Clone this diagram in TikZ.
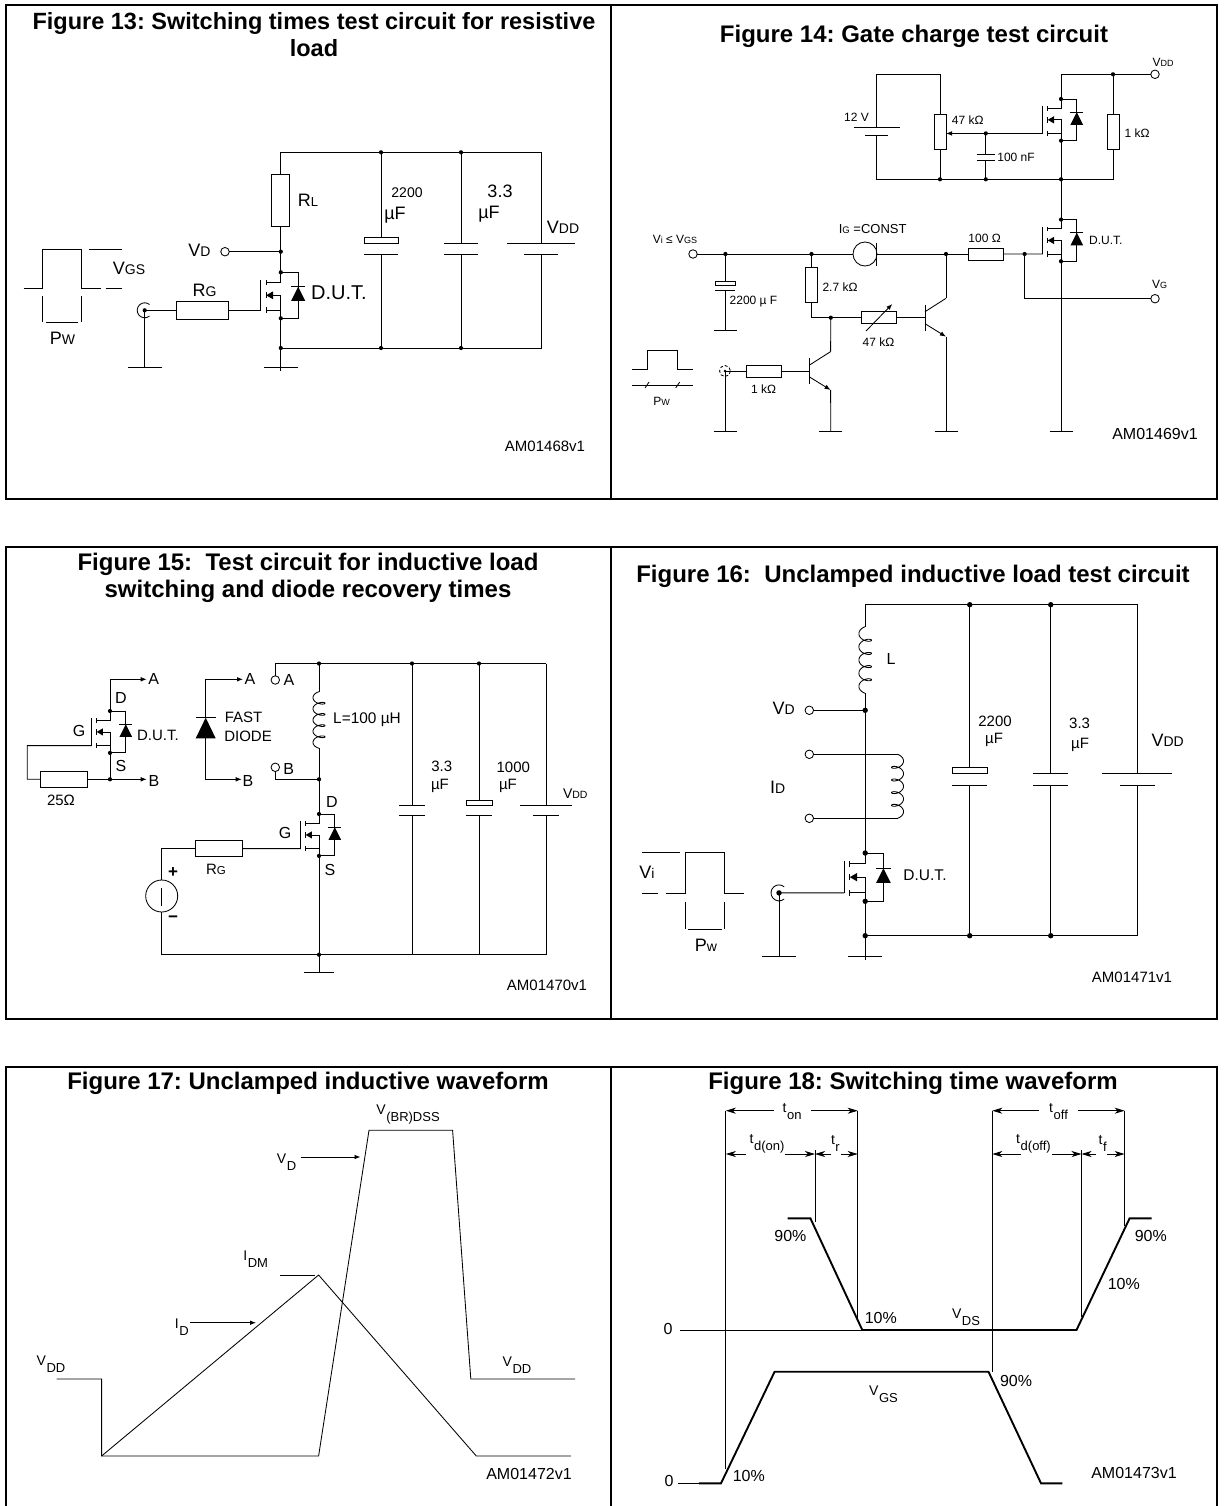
\documentclass[tikz,border=0pt]{standalone}
\usepackage{fontspec}
\setmainfont{Liberation Sans}
\usepackage{tikz}
\usetikzlibrary{arrows.meta}
\frenchspacing
\newcommand{\lowcap}[2]{{\fontsize{#1}{#1}\selectfont #2}}
\newcommand{\dropcap}[2]{\kern.6pt\raisebox{-7pt}{\fontsize{#1}{#1}\selectfont #2}}
\newcommand{\jradius}{2.1}
\newcommand{\jdot}[1]{\foreach \j in {#1}{\fill (\j) circle (\jradius);}}
\newcommand{\mosfet}[4]{
    \begin{scope}[shift={(#2,#3)},scale=#4]
    \coordinate (#1-d) at (0,0);
    \coordinate (#1-s) at (0,46);
    \coordinate (#1-g) at (-20,38);
    \draw (-20,8)--++(0,30);
    \draw (-14.7,8)--++(0,5);
    \draw (-14.7,20)--++(0,6);
    \draw (-14.7,35)--++(0,6);
    \draw (-14.7,10)--++(14.7,0)--++(0,-10)--++(17.4,0)--++(0,46)--++(-17.4,0)--++(0,-8)--++(-14.7,0);
    \draw (0,46)--++(0,-23)--++(-8,0);
    \fill (-14.7,23)--++(7,-4)--++(0,8)--cycle;
    \draw (10.4,14.5)--++(14,0);
    \fill (17.4,14.5)--++(7,14)--++(-14,0)--cycle;
    \end{scope}
    \jdot{#1-d,#1-s}
}
\newcommand{\npn}[3]{
    \begin{scope}[shift={(#2,#3)}]
    \coordinate (#1-b) at (0,0);
    \coordinate (#1-c) at (21,-19.4);
    \coordinate (#1-e) at (21,19);
    \draw (0,-13)--(0,13);
    \draw (0,-6)--(21,-19.4);
    \draw[tip] (0,6)--(21,19);
    \end{scope}
}
\newcommand{\platepair}[6]{
    \coordinate (#1-t) at (#2,#3);
    \coordinate (#1-b) at (#2,#4);
    \draw (#2-#5,#3)--(#2+#5,#3);
    \draw (#2-#6,#4)--(#2+#6,#4);
}
\newcommand{\gnd}[4]{
    \coordinate (#1) at (#2,#3);
    \draw (#2-#4,#3)--(#2+#4,#3);
}
\newcommand{\coax}[4]{
    \coordinate (#1) at (#2,#3);
    \draw ([shift={(50:#4)}]#1) arc (50:310:#4);
    \jdot{#1}
}
\newcommand{\coil}[4]{
    \begin{scope}
    \pgfmathsetmacro{\coilk}{(#3-#2)/1821.6}
    \pgfmathsetmacro{\coilm}{(#2+#3)/2}
    \draw plot[domain=90:1710,samples=170,variable=\t] ({#1+#4*cos(\t)},{\coilm+\coilk*(\t-900)-100.8*\coilk*sin(\t)});
    \end{scope}
}
\tikzset{
    txt/.style={inner sep=0pt,outer sep=0pt,font=\fontsize{#1}{#1}\selectfont},
    title/.style={inner sep=0pt,align=center,font=\fontsize{#1}{27}\selectfont\bfseries},
    title/.default=24,
    frame/.style={line width=2pt},
    res/.style={draw,fill=white,inner sep=0pt,outer sep=0pt},
    term/.style={draw,fill=white,circle,inner sep=0pt,outer sep=0pt,minimum size=8.5},
    tip/.style={-{Latex[length=6pt,width=4.6pt]}},
    dimtip/.style={-{Stealth[length=10pt,width=6pt,inset=3pt]}},
    trace/.style={line width=1.9pt}
}
\begin{document}
\begin{tikzpicture}[x=1pt,y=-1pt,line width=.85pt]
\useasboundingbox (0,0) rectangle (1223,1506);
\fill[white] (0,0) rectangle (1223,1506);
\draw[frame] (6,5) rectangle (1217,498.7);
\draw[frame] (611,5)--(611,498.7);
\draw[frame] (6,547) rectangle (1217,1019);
\draw[frame] (611,547)--(611,1019);
\draw[frame] (6,1506)--(6,1066.7)--(1217,1066.7)--(1217,1506);
\draw[frame] (611,1066.7)--(611,1506);
\node[title=23.5] (fig13) at (314,34.5) {Figure 13: Switching times test circuit for resistive\\load};
\node[title] (fig14) at (914,36) {Figure 14: Gate charge test circuit};
\node[title] (fig15) at (308,577.5) {Figure 15:\ \ Test circuit for inductive load\\switching and diode recovery times};
\node[title] (fig16) at (913,576) {Figure 16:\ \ Unclamped inductive load test circuit};
\node[title] (fig17) at (308,1083) {Figure 17: Unclamped inductive waveform};
\node[title] (fig18) at (913,1083) {Figure 18: Switching time waveform};

\coordinate (a-t0) at (280.8,152.3);
\coordinate (a-t1) at (381,152.3);
\coordinate (a-t2) at (461,152.3);
\coordinate (a-t3) at (541,152.3);
\coordinate (a-b0) at (280.8,348);
\coordinate (a-b1) at (381,348);
\coordinate (a-b2) at (461,348);
\coordinate (a-b3) at (541,348);
\coordinate (a-vd) at (280.8,251.7);
\mosfet{qa}{280.8}{272.3}{1}
\node[res,minimum width=18,minimum height=52] (rl) at (280.8,200.5) {};
\node[res,minimum width=52,minimum height=17.3] (rga) at (202.8,310.3) {};
\node[term] (vdta) at (225,251.7) {};
\coax{cxa}{144.7}{310.3}{7.5}
\gnd{gal}{144.7}{367.7}{16.8}
\gnd{gar}{280.8}{367.7}{16.8}
\coordinate (garend) at (280.8,370.5);
\platepair{c2200a}{381}{243.3}{254.3}{17}{17}
\draw[fill=white] (364,237.3) rectangle (398,243.3);
\platepair{c33a}{461}{243}{254.3}{17}{17}
\platepair{bata}{541}{243}{254.3}{34}{17}
\draw (bata-t)--(a-t3)--(a-t0)--(rl.north);
\draw (rl.south)--(a-vd)--(qa-d);
\draw (qa-s)--(a-b0)--(a-b3)--(bata-b);
\draw (a-b0)--(garend);
\draw (vdta)--(a-vd);
\draw (rga.east)--(qa-g);
\draw (cxa)--(rga.west);
\draw (cxa)--(gal);
\draw (a-t1)--(364+17,237.3);
\draw (c2200a-b)--(a-b1);
\draw (a-t2)--(c33a-t);
\draw (c33a-b)--(a-b2);
\jdot{a-t1,a-t2,a-b0,a-b1,a-b2,a-vd}
\draw (23.5,288.3)--++(18.7,0)--++(0,-39)--++(39.1,0)--++(0,39)--++(19.2,0);
\draw (105.6,288.3)--++(16.8,0);
\draw (88.8,249.3)--++(33.6,0);
\draw (42.2,296)--++(0,25.7);
\draw (81.3,296)--++(0,25.7);
\draw (46,322.3)--++(32.2,0);
\node[txt=18] (lrl) at (308,200) {R\lowcap{13}{L}};
\node[txt=18] (lvda) at (199.5,250.7) {V\lowcap{14}{D}};
\node[txt=18] (lvgsa) at (129,268) {V\lowcap{14}{GS}};
\node[txt=18] (lrga) at (204.5,290) {R\lowcap{14}{G}};
\node[txt=18] (lpwa) at (62.6,338) {P\lowcap{14}{W}};
\node[txt=20] (ldua) at (339,293) {D.U.T.};
\node[txt=14] (l2200a) at (407,192.7) {2200};
\node[txt=18] (lufa) at (395,215) {µF};
\node[txt=18] (l33a) at (500,191.7) {3.3};
\node[txt=18] (lufb) at (489,214) {µF};
\node[txt=18] (lvdda) at (563,227) {V\lowcap{14}{DD}};
\node[txt=15] (am68) at (545,446) {AM01468v1};

\coordinate (b-tl) at (876.5,74.3);
\coordinate (b-tm) at (940,74.3);
\coordinate (b-td) at (1061,74.3);
\coordinate (b-tr) at (1113,74.3);
\coordinate (b-bl) at (876.5,179.3);
\coordinate (b-bp) at (940,179.3);
\coordinate (b-bc) at (985.8,179.3);
\coordinate (b-bd) at (1061,179.3);
\coordinate (b-br) at (1113,179.3);
\mosfet{qb}{1061}{99}{.906}
\mosfet{qc}{1061}{219.6}{.906}
\node[term] (vddb) at (1155,74.3) {};
\node[res,minimum width=12,minimum height=35] (r1k) at (1113,131.5) {};
\node[res,minimum width=12,minimum height=35] (pot) at (940,132) {};
\platepair{bat12}{876.5}{127.7}{135.7}{23}{11.5}
\coordinate (b-wp) at (985.8,133.4);
\platepair{c100}{985.8}{154}{160}{9}{9}
\draw (vddb)--(b-td)--(qb-d);
\draw (b-tr)--(r1k.north);
\draw (r1k.south)--(b-br)--(b-bl)--(bat12-b);
\draw (bat12-t)--(b-tl)--(b-tm)--(pot.north);
\draw (pot.south)--(b-bp);
\draw[tip] (qb-g)--(qb-g-|pot.east);
\draw (b-wp)--(c100-t);
\draw (c100-b)--(b-bc);
\draw (qb-s)--(qc-d);
\jdot{b-tr,b-bp,b-bc,b-bd,b-wp}
\node[term] (vin) at (693,254) {};
\node[draw,circle,inner sep=0pt,outer sep=0pt,minimum size=24] (igs) at (865,254) {};
\coordinate (igbara) at (876.5,242.7);
\coordinate (igbarb) at (876.5,266);
\draw (igbara)--(igbarb);
\node[res,minimum width=35,minimum height=12] (r100) at (986.4,254) {};
\node[term] (vgt) at (1155,298.7) {};
\coordinate (b-j1) at (725.4,254);
\coordinate (b-j2) at (811.5,254);
\coordinate (b-j3) at (946,254);
\coordinate (b-j4) at (1024.6,254);
\coordinate (b-j5) at (1024.6,298.7);
\draw (vin)--(igs.west);
\draw (igbara|-igs)--(r100.west);
\draw (r100.east)--(qc-g);
\draw (b-j4)--(b-j5)--(vgt);
\gnd{gdut}{1061}{431.7}{11.5}
\draw (qc-s)--(gdut);
\npn{tra}{925}{317.7}
\npn{trb}{809.6}{371}
\gnd{gtra}{946}{431.7}{11.5}
\gnd{gtrb}{830.8}{431.7}{11.5}
\draw (b-j3)--(tra-c);
\draw (tra-e)--(gtra);
\draw (trb-e)--(gtrb);
\node[res,minimum width=11.5,minimum height=35] (r27) at (811.5,284.8) {};
\node[res,minimum width=34.5,minimum height=11.7] (r47) at (878.7,317.7) {};
\coordinate (b-k1) at (811.5,317.7);
\coordinate (b-k2) at (830.8,317.7);
\draw (b-j2)--(r27.north);
\draw (r27.south)--(b-k1)--(r47.west);
\draw (r47.east)--(tra-b);
\draw (b-k2)--(trb-c);
\coordinate (rha) at (866,331);
\coordinate (rhb) at (892.3,304);
\draw[tip] (rha)--(rhb);
\platepair{c2200b}{725.4}{285.7}{290.7}{10}{10}
\draw[fill=white] (715.6,281) rectangle (735.4,285.7);
\gnd{gcap}{725.4}{330}{11.5}
\draw (b-j1)--(725.4,281);
\draw (c2200b-b)--(gcap);
\coordinate (cxb) at (725,371);
\draw[densely dashed] (cxb) circle (5.5);
\node[res,minimum width=35,minimum height=12] (r1b) at (763.7,371) {};
\gnd{gcxb}{725}{431.7}{11.5}
\draw (cxb)--(r1b.west);
\draw (r1b.east)--(trb-b);
\draw (cxb)--(gcxb);
\jdot{b-j1,b-j2,b-j3,b-j4,b-k2}
\fill (cxb) circle (1.3);
\draw (631.5,369.3)--++(15.5,0)--++(0,-19.3)--++(30.7,0)--++(0,19.3)--++(15.3,0);
\draw (631.5,385)--++(61.5,0);
\draw (645,388)--++(4,-6);
\draw (675.7,388)--++(4,-6);
\node[txt=12] (lvddb) at (1163,62.7) {V\lowcap{9}{DD}};
\node[txt=12] (l1k) at (1137,132.7) {1 kΩ};
\node[txt=12] (l12v) at (856.5,117.7) {12 V};
\node[txt=12] (lpot) at (967.7,120) {47 kΩ};
\node[txt=12] (l100n) at (1016,157) {100 nF};
\node[txt=12] (lduc) at (1105.8,240) {D.U.T.};
\node[txt=13] (ligc) at (872.7,229.3) {I\lowcap{9.5}{G} =CONST};
\node[txt=12] (lvi) at (675,239) {V\lowcap{9}{i} ≤ V\lowcap{9}{GS}};
\node[txt=12] (l100) at (984.6,238.7) {100 Ω};
\node[txt=12] (lvgb) at (1159.6,284.3) {V\lowcap{9}{G}};
\node[txt=12] (l47b) at (878.5,341.7) {47 kΩ};
\node[txt=12] (l27) at (840,286.7) {2.7 kΩ};
\node[txt=12] (l2200b) at (753.5,302) {2200 µ F};
\node[txt=12] (l1kb) at (763.5,389.3) {1 kΩ};
\node[txt=12] (lpwb) at (661.5,401) {P\lowcap{9}{W}};
\node[txt=16] (am69) at (1155,434) {AM01469v1};

\mosfet{qd}{110}{711}{.91}
\coordinate (c-aa) at (146.7,679.3);
\coordinate (c-ab) at (146.7,779.3);
\coordinate (c-bj) at (110,779.3);
\coordinate (c-gl) at (27.3,745.6);
\coordinate (c-gb) at (27.3,779.3);
\node[res,minimum width=46.6,minimum height=15.6] (r25) at (64,779.3) {};
\draw[tip] (qd-d)|-(c-aa);
\draw (qd-s)--(c-bj);
\draw[tip] (c-bj)--(c-ab);
\draw (qd-g)--(c-gl)--(c-gb)--(r25.west);
\draw (r25.east)--(c-bj);
\jdot{c-bj}
\coordinate (c-fa) at (243,679.3);
\coordinate (c-fb) at (241.7,779.3);
\coordinate (c-fk) at (205.7,717.7);
\coordinate (c-fn) at (205.7,738.3);
\draw[tip] (c-fk)|-(c-fa);
\draw[tip] (c-fn)|-(c-fb);
\draw (195.7,717.7)--(215.7,717.7);
\fill (c-fk)--(215.7,738.3)--(195.7,738.3)--cycle;
\node[term] (ta) at (275.3,680) {};
\node[term] (tb) at (275.3,767.3) {};
\coordinate (c-r0) at (319,663.5);
\coordinate (c-r1) at (412,663.5);
\coordinate (c-r2) at (479,663.5);
\coordinate (c-r3) at (546,663.5);
\coordinate (c-b0) at (319,954.7);
\coordinate (c-b1) at (412,954.7);
\coordinate (c-b2) at (479,954.7);
\coordinate (c-b3) at (546,954.7);
\coordinate (c-lt) at (319,691.7);
\coordinate (c-lb) at (319,748.3);
\coordinate (c-bw) at (319,779.3);
\coil{319}{691.7}{748.3}{6}
\mosfet{qe}{319}{814}{.91}
\draw (ta.north)|-(c-r0);
\draw (c-r0)--(c-r3);
\draw (c-r0)--(c-lt);
\draw (c-lb)--(qe-d);
\draw (tb.south)|-(c-bw);
\platepair{c33c}{412}{805.3}{815.3}{13}{13}
\platepair{c1000}{479}{805.3}{815.3}{13}{13}
\draw[fill=white] (466,800.3) rectangle (492.3,805.3);
\platepair{batc}{546}{805.3}{815.3}{26}{13}
\draw (c-r1)--(c33c-t);
\draw (c33c-b)--(c-b1);
\draw (c-r2)--(479,800.3);
\draw (c1000-b)--(c-b2);
\draw (c-r3)--(batc-t);
\draw (batc-b)--(c-b3);
\gnd{gce}{319}{972.7}{15}
\draw (qe-s)--(gce);
\node[res,minimum width=46.7,minimum height=15.7] (rgc) at (218.7,848.6) {};
\node[draw,circle,inner sep=0pt,outer sep=0pt,minimum size=32] (vsc) at (161.7,896) {};
\coordinate (c-va) at (161.7,888);
\coordinate (c-vb) at (161.7,906);
\draw (c-va)--(c-vb);
\draw (rgc.east)--(qe-g);
\draw (rgc.west)-|(vsc.north);
\draw (vsc.south)|-(c-b0);
\draw (c-b0)--(c-b3);
\jdot{c-r0,c-r1,c-r2,c-bw,c-b0}
\node[txt=16] (lac) at (153.7,679) {A};
\node[txt=16] (lbc) at (154,781) {B};
\node[txt=16] (ldc) at (121,698) {D};
\node[txt=16] (lsc) at (121,766) {S};
\node[txt=16] (lgc) at (79,731) {G};
\node[txt=15] (lduc2) at (158,735) {D.U.T.};
\node[txt=15] (l25) at (61,800) {25Ω};
\node[txt=16] (lafd) at (250,679) {A};
\node[txt=16] (lbfd) at (248,781) {B};
\node[txt=15] (lfast) at (243.5,717) {FAST};
\node[txt=15] (ldiode) at (248,736) {DIODE};
\node[txt=16] (lat) at (289,680) {A};
\node[txt=16] (lbt) at (288.7,769) {B};
\node[txt=15.4] (ll) at (367,720) {L=100 µH};
\node[txt=16] (ldq) at (332,802) {D};
\node[txt=16] (lsq) at (330,870) {S};
\node[txt=16] (lgq) at (285,833) {G};
\node[txt=15] (lrgc) at (216,869.3) {R\lowcap{11.5}{G}};
\node[txt=17] (lplus) at (173,873) {\textbf{+}};
\node[txt=17] (lminus) at (173,919) {\textbf{−}};
\node[txt=15] (l33c) at (441.7,766.7) {3.3};
\node[txt=15] (lufc) at (440,786) {µF};
\node[txt=15] (l1000) at (513.3,767.3) {1000};
\node[txt=15] (lufd) at (508,786) {µF};
\node[txt=14] (lvddc) at (575.3,793.3) {V\lowcap{10.5}{DD}};
\node[txt=15] (am70) at (547,985) {AM01470v1};

\renewcommand{\jradius}{2.7}
\coordinate (d-r0) at (865.2,604.7);
\coordinate (d-r1) at (969.7,604.7);
\coordinate (d-r2) at (1050.7,604.7);
\coordinate (d-r3) at (1137.4,604.7);
\coordinate (d-b0) at (865.2,935.7);
\coordinate (d-b1) at (969.7,935.7);
\coordinate (d-b2) at (1050.7,935.7);
\coordinate (d-b3) at (1137.4,935.7);
\coordinate (d-lt) at (865.2,626.7);
\coordinate (d-lb) at (865.2,693.3);
\coordinate (d-vd) at (865.2,710.3);
\coordinate (d-ct) at (897.5,754.3);
\coordinate (d-cb) at (897.5,818.3);
\coil{865.2}{626.7}{693.3}{6.3}
\coil{897.5}{754.3}{818.3}{-6}
\mosfet{qf}{865.2}{853}{1.05}
\node[term] (vdd) at (809.3,710.3) {};
\node[term] (ida) at (809.3,754.3) {};
\node[term] (idb) at (809.3,818.3) {};
\coax{cxd}{779}{892.9}{8}
\gnd{gdl}{779}{956.7}{17}
\gnd{gdr}{865.2}{956.7}{17}
\coordinate (gdrend) at (865.2,959.5);
\platepair{c2200d}{969.7}{773.3}{785}{17.5}{17.5}
\draw[fill=white] (952,767) rectangle (987,773.3);
\platepair{c33d}{1050.7}{773}{785}{17.5}{17.5}
\platepair{batd}{1137.4}{773}{785}{35}{17.5}
\draw (batd-t)--(d-r3)--(d-r0)--(d-lt);
\draw (d-lb)--(qf-d);
\draw (qf-s)--(d-b0)--(d-b3)--(batd-b);
\draw (d-b0)--(gdrend);
\draw (vdd)--(d-vd);
\draw (ida)--(d-ct);
\draw (idb)--(d-cb);
\draw (cxd)--(qf-g);
\draw (cxd)--(gdl);
\draw (d-r1)--(969.7,767);
\draw (c2200d-b)--(d-b1);
\draw (d-r2)--(c33d-t);
\draw (c33d-b)--(d-b2);
\jdot{d-r1,d-r2,d-b0,d-b1,d-b2,d-vd}
\draw (666,893.3)--++(19.3,0)--++(0,-40.6)--++(39.4,0)--++(0,40.6)--++(19.3,0);
\draw (641.7,893.3)--++(16.6,0);
\draw (641.7,852.7)--++(38.3,0);
\draw (685.3,901.7)--++(0,27.6);
\draw (724.7,901.7)--++(0,27.6);
\draw (688,929.3)--++(33.7,0);
\node[txt=18] (lvdd) at (783.7,708) {V\lowcap{14}{D}};
\node[txt=18] (lidd) at (777.7,787.7) {I\lowcap{14}{D}};
\node[txt=18] (lvid) at (647,872) {V\lowcap{14}{i}};
\node[txt=18] (lpwd) at (706,945) {P\lowcap{14}{w}};
\node[txt=15.5] (ldud) at (925,875) {D.U.T.};
\node[txt=16] (lld) at (891,659) {L};
\node[txt=15] (l2200d) at (995,721.3) {2200};
\node[txt=15] (lufe) at (994,739.7) {µF};
\node[txt=15] (l33d) at (1079.6,723.3) {3.3};
\node[txt=15] (luff) at (1080,745) {µF};
\node[txt=18] (lvddd) at (1167.6,740) {V\lowcap{14}{DD}};
\node[txt=15] (am71) at (1132,977) {AM01471v1};

\draw (56.5,1379)--(101.6,1379)--(101.6,1456)--(318.6,1456)--(369,1130.3)--(452.6,1130.3)--(470.8,1379)--(575,1379);
\draw (101.6,1456)--(318.6,1275)--(476.3,1456)--(570.8,1456);
\draw (280,1275)--(315.4,1275);
\coordinate (vdtipa) at (300.8,1157);
\coordinate (vdtipb) at (360.5,1157);
\coordinate (idtipa) at (190,1322.7);
\coordinate (idtipb) at (256,1322.7);
\draw[tip] (vdtipa)--(vdtipb);
\draw[tip] (idtipa)--(idtipb);
\node[txt=14] (lvbr) at (408,1115) {V\dropcap{13}{(BR)DSS}};
\node[txt=14] (lvde) at (286.5,1162) {V\dropcap{13}{D}};
\node[txt=14] (lidm) at (255.7,1259) {I\dropcap{13}{DM}};
\node[txt=14] (lide) at (181.8,1327) {I\dropcap{13}{D}};
\node[txt=14] (lvdl) at (51,1364) {V\dropcap{13}{DD}};
\node[txt=14] (lvdr) at (517,1365.5) {V\dropcap{13}{DD}};
\node[txt=16] (am72) at (529,1474) {AM01472v1};

\foreach \x/\a/\b in {725.8/1110.7/1469,815/1150/1221.7,857.7/1110.7/1320,992.3/1110.7/1371.7,1081.5/1150/1316.7,1124.6/1110.7/1226}{
    \draw (\x,\a)--(\x,\b);
}
\foreach \a/\b/\y in {773.8/725.8/1110.7,811/857.7/1110.7,1039/992.3/1110.7,1077.7/1124.6/1110.7,746/725.8/1154,784.6/815/1154,830.8/815/1154,841/857.7/1154,1021/992.3/1154,1051.5/1081.5/1154,1096/1081.5/1154,1106.5/1124.6/1154}{
    \draw[dimtip] (\a,\y)--(\b,\y);
}
\draw (679.6,1330)--(862,1330);
\draw (677.7,1483.3)--(698.8,1483.3);
\draw[trace] (787.7,1218.3)--(810.4,1218.3)--(862.3,1330)--(1076.5,1330)--(1129.6,1218.3)--(1151.5,1218.3);
\draw[trace] (698.8,1483.3)--(721,1483.3)--(774.6,1371.7)--(988.5,1371.7)--(1041,1483.3)--(1062.3,1483.3);
\node[txt=14] (lton) at (792,1111.7) {t\dropcap{13}{on}};
\node[txt=14] (ltoff) at (1058.5,1112) {t\dropcap{13}{off}};
\node[txt=14] (ltdon) at (767,1144) {t\dropcap{13}{d(on)}};
\node[txt=14] (ltr) at (835.4,1143) {t\dropcap{13}{r}};
\node[txt=14] (ltdoff) at (1033.5,1144) {t\dropcap{13}{d(off)}};
\node[txt=14] (ltf) at (1102.7,1143) {t\dropcap{13}{f}};
\node[txt=16] (lzeroa) at (668,1329) {0};
\node[txt=16] (lzerob) at (669,1480.7) {0};
\node[txt=16] (lp90a) at (790.4,1235.7) {90\%};
\node[txt=16] (lp90b) at (1150.8,1236) {90\%};
\node[txt=16] (lp10a) at (880.8,1317.7) {10\%};
\node[txt=16] (lp10b) at (1123.8,1284.3) {10\%};
\node[txt=14] (lvdsf) at (966,1317) {V\dropcap{13}{DS}};
\node[txt=16] (lp90c) at (1016,1380.7) {90\%};
\node[txt=14] (lvgsf) at (883.5,1394) {V\dropcap{13}{GS}};
\node[txt=16] (lp10c) at (748.8,1476) {10\%};
\node[txt=16] (am73) at (1134,1472.7) {AM01473v1};
\end{tikzpicture}
\end{document}
